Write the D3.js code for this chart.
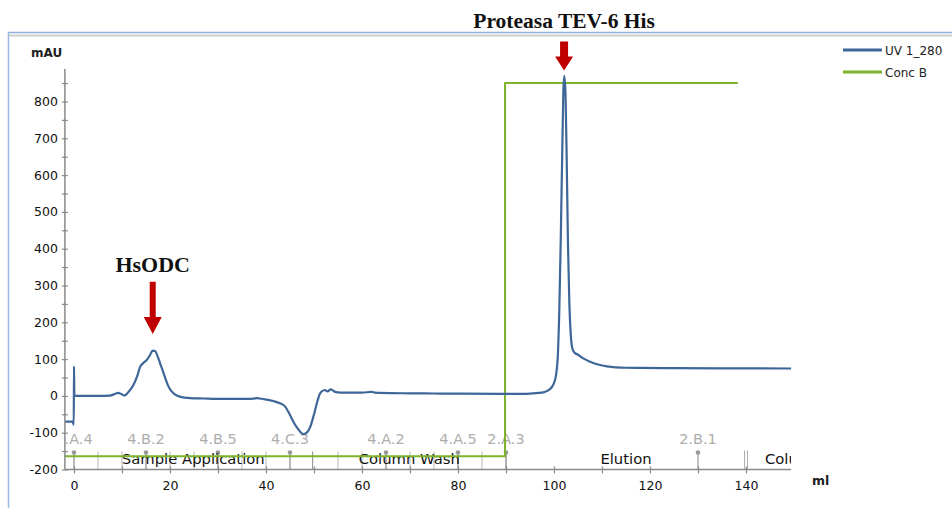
<!DOCTYPE html>
<html>
<head>
<meta charset="utf-8">
<script src="https://cdn.jsdelivr.net/npm/d3@7"></script>
<style>
  html, body { margin: 0; padding: 0; background: #fff; }
  svg { display: block; }
</style>
</head>
<body>
<svg id="chart" width="952" height="508"></svg>
<script>
// ---------- data ----------
const uvMl = [-1.9, -0.3, -0.05, 0, 0.08, 2, 5, 7.5, 8.5, 9.2, 10, 10.5, 11.3, 12.4, 13.2, 13.75, 14.5, 15.1, 15.8, 16.4, 16.9, 17.4, 17.9, 18.5, 19, 19.6, 20.3, 21, 22, 24.2, 27, 29.7, 33, 36, 37.4, 38, 38.7, 40.1, 41.5, 42.9, 44, 45, 45.7, 46.4, 47.1, 47.8, 48.5, 49.2, 49.9, 50.6, 51.2, 51.6, 52.3, 52.8, 53.5, 54.4, 55.5, 57.5, 60, 62, 62.7, 63.75, 70, 74.8, 80, 88.75, 93, 95.7, 97.5, 98.5, 99.3, 99.9, 100.4, 100.8, 101.1, 101.4, 101.7, 101.95, 102.15, 102.4, 102.65, 102.9, 103.2, 103.5, 103.8, 104.3, 105, 106.1, 107.5, 109.6, 111, 112.4, 115, 118, 125, 135, 149.4];
const uvMAU = [-70, -70, -78, 80, 0, 0, 0, 1, 5, 8, 4, 1, 10, 30, 55, 78, 90, 97, 110, 123, 122, 108, 90, 68, 49, 28, 13, 4, -2, -6, -7, -8, -8, -8, -7.5, -6, -7, -10, -14, -20, -29, -52, -70, -85, -97, -104, -100, -85, -55, -20, 5, 12, 16, 12, 18, 11, 9, 9, 9, 11, 9, 8, 7, 6.5, 6, 5.5, 5.5, 7, 9, 13, 20, 32, 55, 110, 230, 420, 650, 830, 870, 820, 640, 420, 250, 165, 130, 117, 112, 102, 93, 84, 80, 78, 76.5, 76, 75.5, 75, 74.5];

const concMl = [-1.9, 89.8, 89.8, 138.3];
const concPct = [0, 0, 100, 100];

const yTickValues = [-200, -100, 0, 100, 200, 300, 400, 500, 600, 700, 800];
const yMinorTicks = [-200, -150, -100, -50, 0, 50, 100, 150, 200, 250, 300, 350, 400, 450, 500, 550, 600, 650, 700, 750, 800, 850];
const xTickValues = [0, 20, 40, 60, 80, 100, 120, 140];
const xMinorTicks = [0, 10, 20, 30, 40, 50, 60, 70, 80, 90, 100, 110, 120, 130, 140];

const fracLineMl = [0, 5, 10, 15, 20, 25, 30, 35, 40, 45, 55, 60, 65, 70, 75, 80, 85];
const phaseLineMl = [49.7, 90];
const fracMarkMl = [0, 15, 30, 45, 65, 80, 90, 130];
const fracMarkLabels = ["4.A.4", "4.B.2", "4.B.5", "4.C.3", "4.A.2", "4.A.5", "2.A.3", "2.B.1"];
const phaseNames = ["Sample Application", "Column Wash", "Elution", "Column Wash"];
const phaseStart = [0, 49.7, 90, 140];
const phaseEnd = [49.7, 90, 140, 169];

const seriesNames = ["UV 1_280", "Conc B"];
const seriesColors = ["#3e6698", "#7db32a"];

const annoLabels = ["HsODC", "Proteasa TEV-6 His"];
const annoMl = [16.4, 102.1];

// ---------- scales ----------
const svg = d3.select("#chart");
const x = d3.scaleLinear().domain([0, 140]).range([74, 746]);
const y = d3.scaleLinear().domain([-200, 800]).range([469.5, 101.5]);
const yConc = d3.scaleLinear().domain([0, 100]).range([y(-164), y(850)]);
const xMin = -1.9, xMax = 149.4, yTop = 888;

// ---------- frame ----------
svg.append("rect").attr("width", 952).attr("height", 508).attr("fill", "#fff");
svg.append("line").attr("x1", 8).attr("x2", 952).attr("y1", 32.5).attr("y2", 32.5)
  .attr("stroke", "#8eb0dc").attr("stroke-width", 1.5);
svg.append("line").attr("x1", 8).attr("x2", 952).attr("y1", 35.5).attr("y2", 35.5)
  .attr("stroke", "#cfcfcf").attr("stroke-width", 2);
svg.append("line").attr("x1", 8.5).attr("x2", 8.5).attr("y1", 32).attr("y2", 508)
  .attr("stroke", "#9dbbe0").attr("stroke-width", 1.5);

// ---------- clip ----------
svg.append("clipPath").attr("id", "plotclip").append("rect")
  .attr("x", x(xMin) + 1).attr("y", y(yTop)).attr("width", x(xMax) - x(xMin) - 1)
  .attr("height", y(-200) - y(yTop) + 10);

// ---------- fraction / phase marks ----------
const marks = svg.append("g").attr("clip-path", "url(#plotclip)");
marks.selectAll(".fl").data(fracLineMl).enter().append("line")
  .attr("x1", d => x(d)).attr("x2", d => x(d))
  .attr("y1", y(-200) - 18).attr("y2", y(-200))
  .attr("stroke", "#c4c4c4").attr("stroke-width", 1.2);
marks.selectAll(".pl").data(phaseLineMl).enter().append("line")
  .attr("x1", d => x(d)).attr("x2", d => x(d))
  .attr("y1", y(-200) - 18).attr("y2", y(-200))
  .attr("stroke", "#999").attr("stroke-width", 1.2);
marks.selectAll(".fm").data(fracMarkMl).enter().append("line")
  .attr("x1", d => x(d)).attr("x2", d => x(d))
  .attr("y1", y(-200) - 17).attr("y2", y(-200))
  .attr("stroke", "#aaa").attr("stroke-width", 1.4);
marks.selectAll(".fd").data(fracMarkMl).enter().append("circle")
  .attr("cx", d => x(d)).attr("cy", y(-200) - 17).attr("r", 2.3)
  .attr("fill", "#999");
[139.7, 140.3].forEach(v => {
  marks.append("line").attr("x1", x(v)).attr("x2", x(v))
    .attr("y1", y(-200) - 19).attr("y2", y(-200))
    .attr("stroke", "#aaa").attr("stroke-width", 1);
});
marks.selectAll(".ft").data(fracMarkMl).enter().append("text")
  .attr("x", d => x(d)).attr("y", y(-200) - 26)
  .attr("text-anchor", "middle")
  .attr("font-family", "DejaVu Sans, sans-serif").attr("font-size", 14.5)
  .attr("fill", "#aeaeae")
  .text((d, i) => fracMarkLabels[i]);
marks.selectAll(".pt").data(phaseNames).enter().append("text")
  .attr("x", (d, i) => x((phaseStart[i] + phaseEnd[i]) / 2)).attr("y", y(-200) - 6)
  .attr("text-anchor", "middle")
  .attr("font-family", "DejaVu Sans, sans-serif").attr("font-size", 14.8)
  .attr("fill", "#111")
  .text(d => d);

// ---------- lines ----------
const uvData = uvMl.map((v, i) => [v, uvMAU[i]]);
const concData = concMl.map((v, i) => [v, concPct[i]]);

svg.append("path").datum(concData)
  .attr("fill", "none").attr("stroke", seriesColors[1]).attr("stroke-width", 2)
  .attr("stroke-linejoin", "round")
  .attr("d", d3.line().x(d => x(d[0])).y(d => yConc(d[1])));

svg.append("path").datum(uvData)
  .attr("fill", "none").attr("stroke", seriesColors[0]).attr("stroke-width", 2.2)
  .attr("stroke-linejoin", "round")
  .attr("d", d3.line().x(d => x(d[0])).y(d => y(d[1])).curve(d3.curveMonotoneX));

// ---------- axes ----------
const axisColor = "#8a8a8a";
const yAxisG = svg.append("g").attr("transform", `translate(${x(xMin)},0)`);
yAxisG.call(d3.axisLeft(y).tickValues(yMinorTicks).tickSize(3).tickPadding(4)
  .tickFormat(d => yTickValues.includes(d) ? d : ""));
yAxisG.select(".domain").remove();
yAxisG.selectAll(".tick line").attr("stroke", axisColor).attr("stroke-width", 1.2);
yAxisG.selectAll(".tick text").attr("font-family", "DejaVu Sans, sans-serif")
  .attr("font-size", 12.5).attr("fill", "#111");
const yAxisR = svg.append("g").attr("transform", `translate(${x(xMin)},0)`);
yAxisR.call(d3.axisRight(y).tickValues(yMinorTicks).tickSize(3).tickFormat(""));
yAxisR.select(".domain").remove();
yAxisR.selectAll(".tick line").attr("stroke", axisColor).attr("stroke-width", 1.2);
svg.append("line").attr("x1", x(xMin)).attr("x2", x(xMin))
  .attr("y1", y(yTop)).attr("y2", y(-200))
  .attr("stroke", axisColor).attr("stroke-width", 1.5);

const xAxisG = svg.append("g").attr("transform", `translate(0,${y(-200)})`);
xAxisG.call(d3.axisBottom(x).tickValues(xMinorTicks).tickSize(4).tickPadding(8)
  .tickFormat(d => xTickValues.includes(d) ? d : ""));
xAxisG.select(".domain").remove();
xAxisG.selectAll(".tick line").attr("stroke", axisColor).attr("stroke-width", 1.2);
xAxisG.selectAll(".tick text").attr("font-family", "DejaVu Sans, sans-serif")
  .attr("font-size", 12.5).attr("fill", "#111");
const xAxisT = svg.append("g").attr("transform", `translate(0,${y(-200)})`);
xAxisT.call(d3.axisTop(x).tickValues(xMinorTicks).tickSize(3).tickFormat(""));
xAxisT.select(".domain").remove();
xAxisT.selectAll(".tick line").attr("stroke", axisColor).attr("stroke-width", 1.2);
svg.append("line").attr("x1", x(xMin)).attr("x2", x(xMax))
  .attr("y1", y(-200)).attr("y2", y(-200))
  .attr("stroke", axisColor).attr("stroke-width", 1.5);

// axis titles
svg.append("text").attr("x", 31).attr("y", 57)
  .attr("font-family", "DejaVu Sans, sans-serif").attr("font-size", 12)
  .attr("font-weight", "bold").attr("fill", "#222").text("mAU");
svg.append("text").attr("x", 812).attr("y", 485)
  .attr("font-family", "DejaVu Sans, sans-serif").attr("font-size", 12.5)
  .attr("font-weight", "bold").attr("fill", "#222").text("ml");

// ---------- legend ----------
const leg = svg.append("g");
seriesNames.forEach((n, i) => {
  leg.append("line").attr("x1", 843).attr("x2", 882)
    .attr("y1", 50 + i * 22).attr("y2", 50 + i * 22)
    .attr("stroke", seriesColors[i]).attr("stroke-width", 3);
  leg.append("text").attr("x", 885).attr("y", 54.5 + i * 22)
    .attr("font-family", "DejaVu Sans, sans-serif").attr("font-size", 12)
    .attr("fill", "#222").text(n);
});

// ---------- annotations ----------
const arrowColor = "#c00000";
function arrow(cx, yTopV, yTipV, shaftW, headW, headH) {
  const t = y(yTopV), b = y(yTipV);
  const p = d3.path();
  p.moveTo(cx - shaftW / 2, t);
  p.lineTo(cx + shaftW / 2, t);
  p.lineTo(cx + shaftW / 2, b - headH);
  p.lineTo(cx + headW / 2, b - headH);
  p.lineTo(cx, b);
  p.lineTo(cx - headW / 2, b - headH);
  p.lineTo(cx - shaftW / 2, b - headH);
  p.closePath();
  svg.append("path").attr("d", p.toString()).attr("fill", arrowColor);
}
arrow(x(annoMl[0]), 310, 168, 6, 18, 17);
arrow(x(annoMl[1]), 963, 884, 8, 18, 14);

svg.append("text").attr("x", x(annoMl[0])).attr("y", 272)
  .attr("text-anchor", "middle")
  .attr("font-family", "Liberation Serif, Times New Roman, serif")
  .attr("font-size", 22).attr("font-weight", "bold").attr("fill", "#111")
  .text(annoLabels[0]);
svg.append("text").attr("x", x(annoMl[1])).attr("y", 28)
  .attr("text-anchor", "middle")
  .attr("font-family", "Liberation Serif, Times New Roman, serif")
  .attr("font-size", 21.5).attr("font-weight", "bold").attr("fill", "#111")
  .text(annoLabels[1]);
</script>
</body>
</html>
